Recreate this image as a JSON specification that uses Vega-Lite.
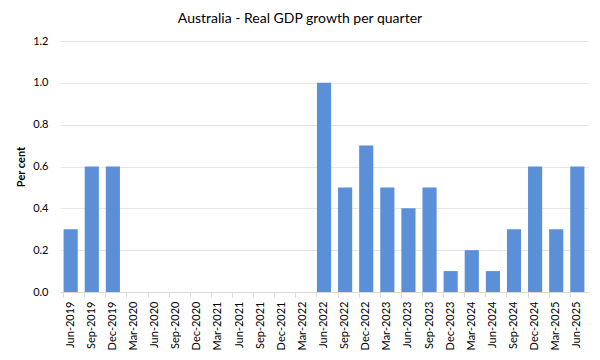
{
  "$schema": "https://vega.github.io/schema/vega-lite/v6.json",
  "width": 528,
  "height": 251,
  "autosize": {"type": "none"},
  "padding": {"left": 60, "top": 41, "right": 12, "bottom": 68},
  "background": "white",
  "title": {"text": "Australia - Real GDP growth per quarter", "font": "Lato", "fontSize": 14, "fontWeight": "normal", "color": "#000000", "offset": 9, "anchor": "middle", "dx": -24},
  "data": {"values": [
    {"q": "Jun-2019", "v": 0.3},
    {"q": "Sep-2019", "v": 0.6},
    {"q": "Dec-2019", "v": 0.6},
    {"q": "Mar-2020", "v": null},
    {"q": "Jun-2020", "v": null},
    {"q": "Sep-2020", "v": null},
    {"q": "Dec-2020", "v": null},
    {"q": "Mar-2021", "v": null},
    {"q": "Jun-2021", "v": null},
    {"q": "Sep-2021", "v": null},
    {"q": "Dec-2021", "v": null},
    {"q": "Mar-2022", "v": null},
    {"q": "Jun-2022", "v": 1.0},
    {"q": "Sep-2022", "v": 0.5},
    {"q": "Dec-2022", "v": 0.7},
    {"q": "Mar-2023", "v": 0.5},
    {"q": "Jun-2023", "v": 0.4},
    {"q": "Sep-2023", "v": 0.5},
    {"q": "Dec-2023", "v": 0.1},
    {"q": "Mar-2024", "v": 0.2},
    {"q": "Jun-2024", "v": 0.1},
    {"q": "Sep-2024", "v": 0.3},
    {"q": "Dec-2024", "v": 0.6},
    {"q": "Mar-2025", "v": 0.3},
    {"q": "Jun-2025", "v": 0.6}
  ]},
  "mark": {"type": "bar", "color": "#5B8FD8"},
  "encoding": {
    "x": {
      "field": "q", "type": "nominal", "sort": null,
      "scale": {"domain": ["Jun-2019","Sep-2019","Dec-2019","Mar-2020","Jun-2020","Sep-2020","Dec-2020","Mar-2021","Jun-2021","Sep-2021","Dec-2021","Mar-2022","Jun-2022","Sep-2022","Dec-2022","Mar-2023","Jun-2023","Sep-2023","Dec-2023","Mar-2024","Jun-2024","Sep-2024","Dec-2024","Mar-2025","Jun-2025"], "paddingInner": 0.33, "paddingOuter": 0.17},
      "axis": {"title": null, "labelAngle": -90, "labelFont": "Lato", "labelFontSize": 11, "labelColor": "#000000", "bandPosition": 0, "tickColor": "#d9d9d9", "tickSize": 5, "domainColor": "#d9d9d9", "labelPadding": 4, "grid": false}
    },
    "y": {
      "field": "v", "type": "quantitative",
      "scale": {"domain": [0, 1.2]},
      "axis": {"title": "Per cent", "titleFont": "Lato", "titleFontSize": 11, "titleFontWeight": "bold", "titleColor": "#000000", "titlePadding": 6, "values": [0, 0.2, 0.4, 0.6, 0.8, 1.0, 1.2], "format": ".1f", "labelFont": "Lato", "labelFontSize": 11, "labelColor": "#000000", "domain": false, "ticks": false, "labelPadding": 12, "gridColor": "#e6e6e6"}
    }
  },
  "config": {"view": {"stroke": null}}
}
